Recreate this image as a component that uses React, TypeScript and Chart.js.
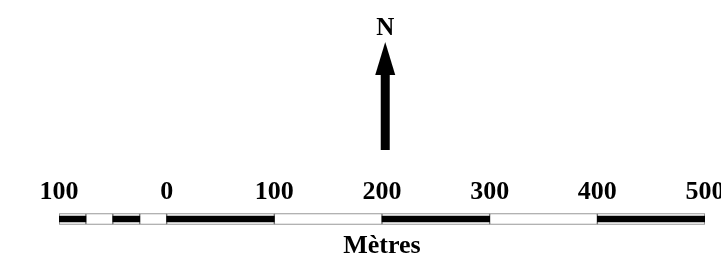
import React, { useEffect, useRef } from "react";
import { Chart, registerables } from "chart.js";

Chart.register(...registerables);

// ---- data ----
const segmentBounds = [-100, -75, -50, -25, 0, 100, 200, 300, 400, 500];
const segmentFilled = [true, false, true, false, true, false, true, false, true];
const tickValues = [-100, 0, 100, 200, 300, 400, 500];
const unitLabel = "Mètres";
const northLabel = "N";
const northAt = 203;
const category = "scale";

const FONT = "'Liberation Serif', 'Times New Roman', serif";

const northArrowPlugin = {
  id: "northArrow",
  afterDraw(chart: any) {
    const { ctx, scales } = chart;
    const x = scales.x.getPixelForValue(northAt);
    ctx.save();
    ctx.fillStyle = "#000";
    ctx.font = `bold 25px ${FONT}`;
    ctx.textAlign = "center";
    ctx.textBaseline = "alphabetic";
    ctx.fillText(northLabel, x, 35);
    // head
    ctx.beginPath();
    ctx.moveTo(x, 42);
    ctx.lineTo(x + 10, 75);
    ctx.lineTo(x - 10, 75);
    ctx.closePath();
    ctx.fill();
    // shaft
    ctx.fillRect(x - 4.5, 74, 9, 76);
    ctx.restore();
  },
};

export default function App() {
  const ref = useRef<HTMLCanvasElement>(null);

  useEffect(() => {
    if (!ref.current) return;
    const outline = segmentBounds.slice(0, -1).map((s, i) => ({
      x: [s, segmentBounds[i + 1]],
      y: category,
    }));
    const filled = outline.filter((_, i) => segmentFilled[i]);

    const zeroPad = (scale: any) => {
      scale.paddingLeft = 0;
      scale.paddingRight = 0;
    };

    const chart = new Chart(ref.current, {
      type: "bar",
      data: {
        labels: [category],
        datasets: [
          {
            label: "black",
            data: filled as any,
            backgroundColor: "#000",
            borderWidth: 0,
            barThickness: 6,
            grouped: false,
            order: 0,
          },
          {
            label: "outline",
            data: outline as any,
            backgroundColor: "#fff",
            borderColor: "#777",
            borderWidth: 1,
            borderSkipped: false,
            barThickness: 11,
            grouped: false,
            order: 1,
          },
        ],
      },
      options: {
        indexAxis: "y",
        animation: false,
        responsive: false,
        devicePixelRatio: 1,
        layout: { padding: { left: 59, right: 16, top: 174, bottom: 14 } },
        plugins: { legend: { display: false }, tooltip: { enabled: false } },
        scales: {
          x: {
            type: "linear",
            position: "top",
            min: -100,
            max: 500,
            grid: { display: false, drawTicks: false },
            border: { display: false },
            afterBuildTicks: (scale: any) => {
              scale.ticks = tickValues.map((v) => ({ value: v }));
            },
            afterFit: zeroPad,
            ticks: {
              padding: 3,
              maxRotation: 0,
              autoSkip: false,
              color: "#000",
              font: { family: FONT, size: 26, weight: "bold" },
              callback: (v: any) => String(Math.abs(Number(v))),
            },
          },
          x2: {
            type: "linear",
            position: "bottom",
            min: -100,
            max: 500,
            grid: { display: false, drawTicks: false },
            border: { display: false },
            ticks: { display: false },
            afterFit: zeroPad,
            title: {
              display: true,
              text: unitLabel,
              color: "#000",
              font: { family: FONT, size: 26, weight: "bold" },
              padding: { top: 4, bottom: 4 },
            },
          },
          y: {
            type: "category",
            display: false,
          },
        },
      },
      plugins: [northArrowPlugin],
    });
    return () => chart.destroy();
  }, []);

  return (
    <div style={{ position: "absolute", left: 0, top: 0, width: 721, height: 280, background: "#fff" }}>
      <canvas ref={ref} width={721} height={280} />
    </div>
  );
}
